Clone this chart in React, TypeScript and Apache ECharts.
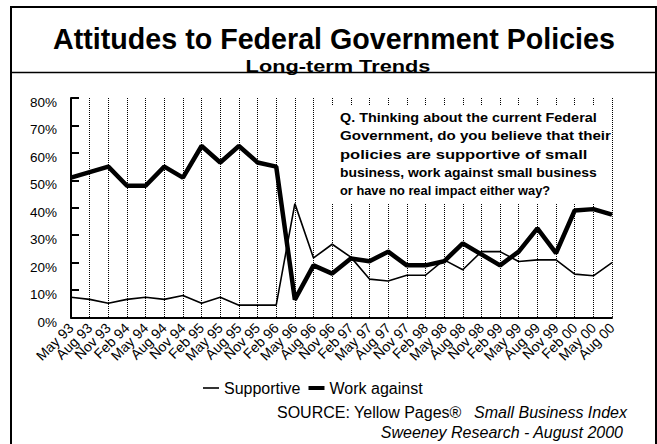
import React, { useEffect, useRef } from "react";
import * as echarts from "echarts";

const categories = [
  "May 93", "Aug 93", "Nov 93", "Feb 94", "May 94", "Aug 94", "Nov 94", "Feb 95",
  "May 95", "Aug 95", "Nov 95", "Feb 96", "May 96", "Aug 96", "Nov 96", "Feb 97",
  "May 97", "Aug 97", "Nov 97", "Feb 98", "May 98", "Aug 98", "Nov 98", "Feb 99",
  "May 99", "Aug 99", "Nov 99", "Feb 00", "May 00", "Aug 00",
];

const supportive = [
  7.4, 6.6, 5.2, 6.6, 7.4, 6.6, 8, 5.2, 7.4, 4.5, 4.5, 4.5, 41.5, 21.7, 26.7, 22,
  14, 13.3, 15.4, 15.4, 21, 17.4, 24, 24, 20.4, 21, 21, 15.8, 15.2, 20,
];

const workAgainst = [
  51, 53, 55, 48, 48, 55, 51, 62.5, 56.5, 62.5, 56.5, 55, 6.5, 19, 16, 21.5,
  20.5, 24, 19, 19, 20.5, 27, 23, 19, 24, 32.5, 23.5, 39, 39.5, 37.5,
];

const yTicks = [0, 10, 20, 30, 40, 50, 60, 70, 80];

const titleText = "Attitudes to Federal Government Policies";
const subtitleText = "Long-term Trends";
const questionLines = [
  "Q. Thinking about the current Federal",
  "Government, do you believe that their",
  "policies are supportive of small",
  "business, work against small business",
  "or have no real impact either way?",
];
const questionStretch = [1.2, 1.26, 1.38, 1.16, 1.07];
const sourceText = "SOURCE: Yellow Pages®";
const sourceItalic = "Small Business Index";
const creditText = "Sweeney Research - August 2000";

const FONT = "'Liberation Sans', Arial, sans-serif";

export default function App() {
  const ref = useRef<HTMLDivElement>(null);

  useEffect(() => {
    if (!ref.current) return;
    const chart = echarts.init(ref.current, undefined, { renderer: "svg" });

    const questionTexts = questionLines.map((line, i) => ({
      type: "text",
      z: 11,
      x: 340,
      y: 118 + i * 18.4,
      scaleX: questionStretch[i],
      style: {
        text: line,
        x: 0,
        y: 0,
        align: "left",
        verticalAlign: "middle",
        font: `bold 12px ${FONT}`,
        fill: "#000",
      },
    }));

    chart.setOption({
      animation: false,
      backgroundColor: "#ffffff",
      textStyle: { fontFamily: FONT, color: "#000" },
      grid: { left: 71, right: 45, top: 98, bottom: 126.5, containLabel: false },
      legend: {
        left: 203,
        top: 380,
        itemWidth: 16,
        itemHeight: 12,
        itemGap: 8,
        padding: 0,
        textStyle: { fontFamily: FONT, fontSize: 16, color: "#000" },
        data: [
          { name: "Supportive", icon: "path://M0,0H16V1.6H0Z" },
          { name: "Work against", icon: "path://M0,0H16V4H0Z" },
        ],
      },
      xAxis: {
        type: "category",
        data: categories,
        boundaryGap: false,
        axisLine: { show: true, lineStyle: { color: "#000", width: 2 } },
        axisTick: { show: false },
        axisLabel: {
          interval: 0,
          rotate: 45,
          margin: 8,
          fontSize: 14,
          color: "#000",
          fontFamily: FONT,
        },
        splitLine: {
          show: true,
          lineStyle: { color: "#000", width: 1, type: [1, 1] },
        },
      },
      yAxis: {
        type: "value",
        min: yTicks[0],
        max: yTicks[yTicks.length - 1],
        interval: 10,
        axisLine: { show: true, lineStyle: { color: "#000", width: 2 } },
        axisTick: { show: true, inside: true, length: 8, lineStyle: { color: "#000", width: 2 } },
        axisLabel: {
          formatter: "{value}%",
          fontSize: 13.5,
          color: "#000",
          margin: 14,
          verticalAlign: "top",
          lineHeight: 9,
          fontFamily: FONT,
        },
        splitLine: { show: false },
      },
      series: [
        {
          name: "Supportive",
          type: "line",
          data: supportive,
          symbol: "none",
          lineStyle: { color: "#000", width: 1.6 },
          itemStyle: { color: "#000" },
          z: 3,
        },
        {
          name: "Work against",
          type: "line",
          data: workAgainst,
          symbol: "none",
          lineStyle: { color: "#000", width: 4.5 },
          itemStyle: { color: "#000" },
          z: 4,
        },
      ],
      graphic: [
        {
          type: "rect",
          z: 20,
          shape: { x: 11, y: 7, width: 645, height: 470 },
          style: { fill: "none", stroke: "#000", lineWidth: 2 },
          silent: true,
        },
        {
          type: "line",
          z: 20,
          shape: { x1: 11, y1: 72.5, x2: 657, y2: 72.5 },
          style: { stroke: "#000", lineWidth: 1.6 },
          silent: true,
        },
        {
          type: "text",
          z: 21,
          x: 334,
          y: 38,
          scaleX: 0.955,
          style: {
            text: titleText,
            x: 0,
            y: 0,
            align: "center",
            verticalAlign: "middle",
            font: `bold 30px ${FONT}`,
            fill: "#000",
          },
        },
        {
          type: "text",
          z: 21,
          x: 338,
          y: 67,
          scaleX: 1.36,
          style: {
            text: subtitleText,
            x: 0,
            y: 0,
            align: "center",
            verticalAlign: "middle",
            font: `bold 16px ${FONT}`,
            fill: "#000",
          },
        },
        {
          type: "rect",
          z: 10,
          shape: { x: 325, y: 106, width: 282, height: 98 },
          style: { fill: "#fff", stroke: "none" },
          silent: true,
        },
        ...questionTexts,
        {
          type: "text",
          z: 11,
          x: 277,
          y: 412,
          style: {
            text: sourceText,
            x: 0,
            y: 0,
            align: "left",
            verticalAlign: "middle",
            font: `16px ${FONT}`,
            fill: "#000",
          },
        },
        {
          type: "text",
          z: 11,
          x: 627,
          y: 412,
          style: {
            text: sourceItalic,
            x: 0,
            y: 0,
            align: "right",
            verticalAlign: "middle",
            font: `italic 16px ${FONT}`,
            fill: "#000",
          },
        },
        {
          type: "text",
          z: 11,
          x: 623,
          y: 432,
          style: {
            text: creditText,
            x: 0,
            y: 0,
            align: "right",
            verticalAlign: "middle",
            font: `italic 16px ${FONT}`,
            fill: "#000",
          },
        },
      ],
    });
    return () => chart.dispose();
  }, []);

  return (
    <div
      ref={ref}
      style={{ position: "absolute", left: 0, top: 0, width: 657, height: 444, background: "#fff" }}
    />
  );
}
